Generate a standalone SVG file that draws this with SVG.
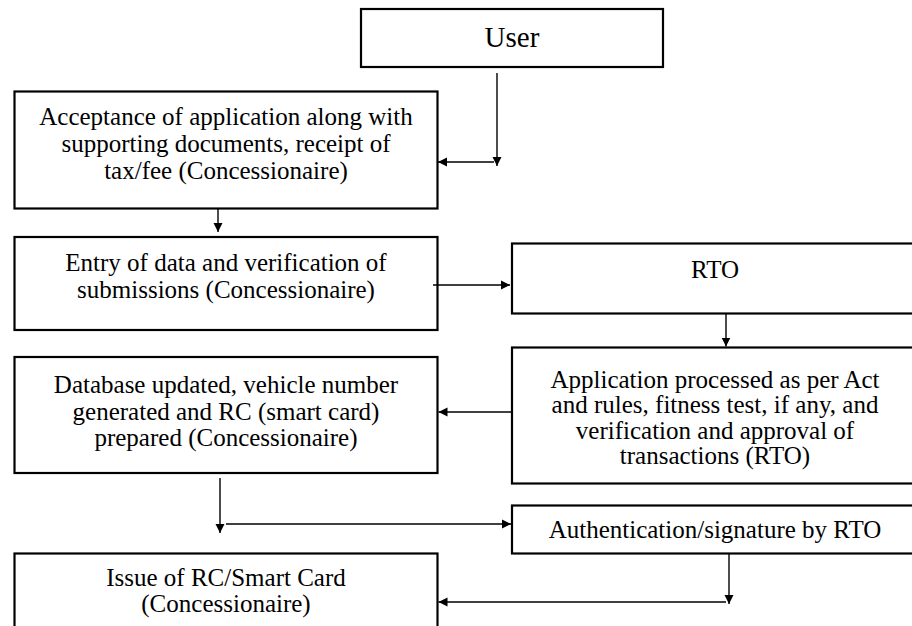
<svg xmlns="http://www.w3.org/2000/svg" width="912" height="626" viewBox="0 0 912 626">
<style>
.box{fill:#fff;stroke:#000;stroke-width:2.2}
.t{font-family:"Liberation Serif","Times New Roman",serif;font-size:25px;fill:#000;text-anchor:middle}
.big{font-size:29px}
.c{fill:none;stroke:#000;stroke-width:1.4}
</style>
<defs>
<marker id="ah" markerUnits="userSpaceOnUse" markerWidth="10" markerHeight="10" viewBox="0 0 10 9" refX="9" refY="4.5" orient="auto">
<path d="M0,0 L9,4.5 L0,9 z" fill="#000"/>
</marker>
</defs>
<rect width="912" height="626" fill="#fff"/>
<g id="user"><rect class="box" x="361" y="9" width="302" height="58"/><text class="t big" x="512" y="47">User</text></g>
<g id="acceptance"><rect class="box" x="14.5" y="91.5" width="423" height="117"/>
<text class="t" x="226" y="125">Acceptance of application along with</text>
<text class="t" x="226" y="152">supporting documents, receipt of</text>
<text class="t" x="226" y="179">tax/fee (Concessionaire)</text></g>
<g id="entry"><rect class="box" x="14.5" y="237" width="423" height="93"/>
<text class="t" x="226" y="271">Entry of data and verification of</text>
<text class="t" x="226" y="298">submissions (Concessionaire)</text></g>
<g id="rto"><rect class="box" x="512" y="243.5" width="406" height="70"/>
<text class="t" x="715" y="278">RTO</text></g>
<g id="application"><rect class="box" x="512" y="347.5" width="406" height="136"/>
<text class="t" x="715" y="387.5">Application processed as per Act</text>
<text class="t" x="715" y="413">and rules, fitness test, if any, and</text>
<text class="t" x="715" y="438.5">verification and approval of</text>
<text class="t" x="715" y="464">transactions (RTO)</text></g>
<g id="database"><rect class="box" x="14.5" y="357" width="423" height="116"/>
<text class="t" x="226" y="393">Database updated, vehicle number</text>
<text class="t" x="226" y="420">generated and RC (smart card)</text>
<text class="t" x="226" y="446">prepared (Concessionaire)</text></g>
<g id="auth"><rect class="box" x="512" y="505.5" width="406" height="48"/>
<text class="t" x="715" y="538">Authentication/signature by RTO</text></g>
<g id="issue"><rect class="box" x="14.5" y="553.5" width="423" height="80"/>
<text class="t" x="226" y="586">Issue of RC/Smart Card</text>
<text class="t" x="226" y="612">(Concessionaire)</text></g>
<g id="connectors">
<path class="c" d="M497,73 V166" marker-end="url(#ah)"/>
<path class="c" d="M494,162 H438" marker-end="url(#ah)"/>
<path class="c" d="M218,209 V232" marker-end="url(#ah)"/>
<path class="c" d="M433,285 H510" marker-end="url(#ah)"/>
<path class="c" d="M726,314 V346.5" marker-end="url(#ah)"/>
<path class="c" d="M512,412 H438.5" marker-end="url(#ah)"/>
<path class="c" d="M220,478 V533" marker-end="url(#ah)"/>
<path class="c" d="M226,524 H511" marker-end="url(#ah)"/>
<path class="c" d="M729,554 V604" marker-end="url(#ah)"/>
<path class="c" d="M726,602 H438.5" marker-end="url(#ah)"/>
</g>
</svg>
